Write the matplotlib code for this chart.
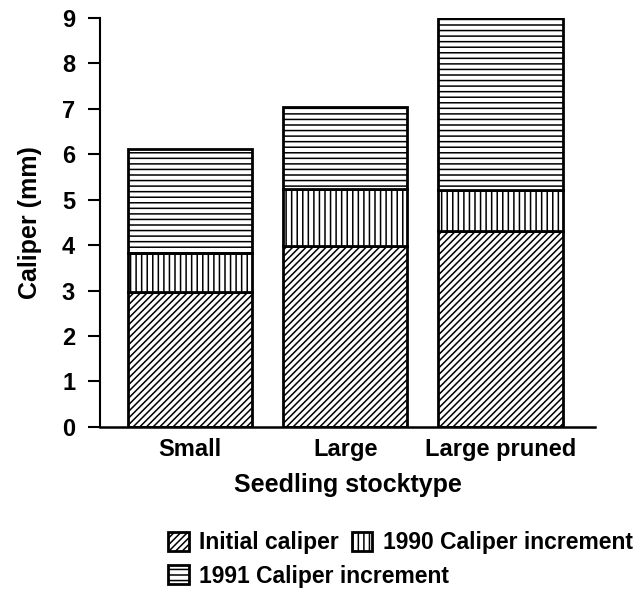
import matplotlib
matplotlib.use("Agg")
import matplotlib.pyplot as plt
import numpy as np

categories = ["Small", "Large", "Large pruned"]
initial_caliper = [2.97, 3.98, 4.30]
inc_1990 = [0.85, 1.25, 0.92]
inc_1991 = [2.30, 1.82, 3.78]
series_labels = ["Initial caliper", "1990 Caliper increment", "1991 Caliper increment"]
yticks = list(range(0, 10))

plt.rcParams['font.family'] = ['Liberation Sans', 'DejaVu Sans']
plt.rcParams['font.weight'] = 'bold'
plt.rcParams['hatch.linewidth'] = 1.1

fig = plt.figure(figsize=(6.42, 5.97), dpi=100)
ax = fig.add_axes([0.156, 0.285, 0.771, 0.685])

x = np.arange(len(categories))
w = 0.8
b1 = np.array(initial_caliper)
b2 = b1 + np.array(inc_1990)
h1 = ax.bar(x, initial_caliper, w, color='white', edgecolor='black', linewidth=2, hatch='/////', label=series_labels[0])
h2 = ax.bar(x, inc_1990, w, bottom=b1, color='white', edgecolor='black', linewidth=2, hatch='|||', label=series_labels[1])
h3 = ax.bar(x, inc_1991, w, bottom=b2, color='white', edgecolor='black', linewidth=2, hatch='---', label=series_labels[2])

ax.set_xlim(-0.58, 2.61)
ax.set_ylim(0, 9)
ax.set_yticks(yticks)
ax.set_xticks(x)
ax.set_xticklabels(categories, fontsize=17, fontweight='bold')
ax.tick_params(axis='x', length=0, pad=8)
ax.tick_params(axis='y', direction='out', length=9, width=1.5, labelsize=17, pad=9)
for t in ax.get_yticklabels():
    t.set_fontweight('bold')
ax.spines['top'].set_visible(False)
ax.spines['right'].set_visible(False)
ax.spines['left'].set_linewidth(1.5)
ax.spines['bottom'].set_linewidth(1.8)
ax.set_ylabel("Caliper (mm)", fontsize=18, fontweight='bold', labelpad=14)
ax.set_xlabel("Seedling stocktype", fontsize=18, fontweight='bold', labelpad=9)

common = dict(frameon=False, fontsize=16.5, handlelength=0.9, handleheight=0.9,
              handletextpad=0.45, labelspacing=0.45, borderaxespad=0, borderpad=0,
              loc='upper left')
leg1 = fig.legend(handles=[h1, h3], bbox_to_anchor=(0.262, 0.11), **common)
leg2 = fig.legend(handles=[h2], bbox_to_anchor=(0.548, 0.11), **common)
for leg in (leg1, leg2):
    for t in leg.get_texts():
        t.set_fontweight('bold')

fig.savefig("out.png", dpi=100)
